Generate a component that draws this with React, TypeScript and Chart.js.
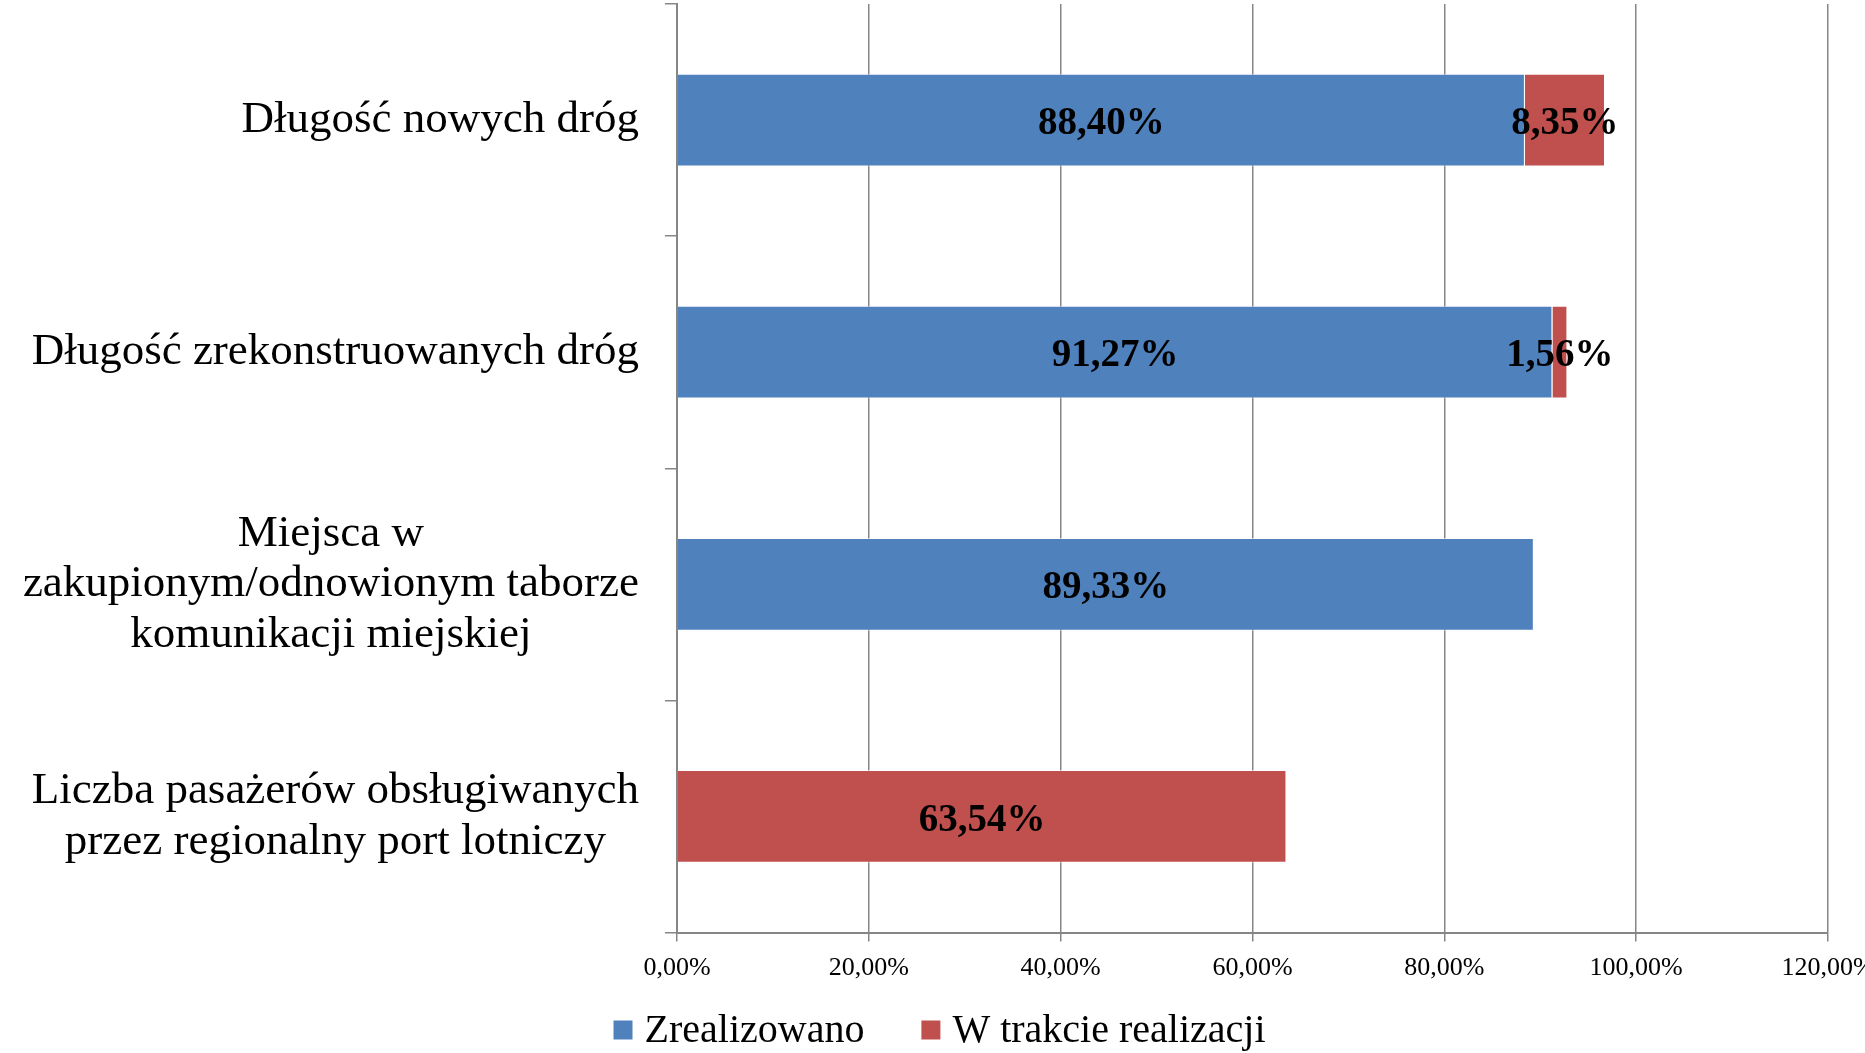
import { useEffect, useRef } from "react";
import { Chart, registerables } from "chart.js";

Chart.register(...registerables);

const categories: string[][] = [
  ["Długość nowych dróg"],
  ["Długość zrekonstruowanych dróg"],
  ["Miejsca w", "zakupionym/odnowionym taborze", "komunikacji miejskiej"],
  ["Liczba pasażerów obsługiwanych", "przez regionalny port lotniczy"],
];
const realized: (number | null)[] = [88.4, 91.27, 89.33, null];
const inProgress: (number | null)[] = [8.35, 1.56, null, 63.54];
const seriesNames = ["Zrealizowano", "W trakcie realizacji"];
const seriesColors = ["#4F81BD", "#C0504D"];
const xMin = 0;
const xMax = 120;
const xStep = 20;

const FONT = '"Liberation Serif", "Times New Roman", serif';
const W = 1865;
const H = 1053;

const fmt = (v: number) => v.toFixed(2).replace(".", ",") + "%";

const categoryLabelPlugin = {
  id: "categoryLabels",
  afterDraw(chart: any) {
    const ctx = chart.ctx;
    const yScale = chart.scales.y;
    ctx.save();
    ctx.font = `45px ${FONT}`;
    ctx.fillStyle = "#000";
    ctx.textAlign = "center";
    ctx.textBaseline = "middle";
    const rightEdge = chart.chartArea.left - 38;
    const lineH = 50.5;
    (chart.data.labels as string[][]).forEach((lines, i) => {
      const yc = yScale.getPixelForValue(i);
      const w = Math.max(...lines.map((l) => ctx.measureText(l).width));
      const cx = rightEdge - w / 2;
      const n = lines.length;
      lines.forEach((line, j) => {
        ctx.fillText(line, cx, yc + (j - (n - 1) / 2) * lineH);
      });
    });
    ctx.restore();
  },
};

const dataLabelPlugin = {
  id: "dataLabels",
  afterDatasetsDraw(chart: any) {
    const ctx = chart.ctx;
    ctx.save();
    ctx.font = `bold 39px ${FONT}`;
    ctx.fillStyle = "#000";
    ctx.textAlign = "center";
    ctx.textBaseline = "middle";
    chart.data.datasets.forEach((ds: any, di: number) => {
      const meta = chart.getDatasetMeta(di);
      meta.data.forEach((el: any, i: number) => {
        const v = ds.data[i];
        if (v == null) return;
        const p = el.getProps(["x", "base", "y"], true);
        ctx.fillText(fmt(v), (p.x + p.base) / 2, p.y + 4);
      });
    });
    ctx.restore();
  },
};

const legendPlugin = {
  id: "customLegend",
  afterDraw(chart: any) {
    const ctx = chart.ctx;
    ctx.save();
    ctx.font = `40px ${FONT}`;
    ctx.textBaseline = "middle";
    ctx.textAlign = "left";
    const box = 19;
    const boxGap = 12;
    const itemGap = 57;
    const items = chart.data.datasets.map((ds: any) => ({
      text: ds.label as string,
      color: ds.backgroundColor as string,
      w: ctx.measureText(ds.label).width,
    }));
    const total =
      items.reduce((s: number, it: any) => s + box + boxGap + it.w, 0) +
      itemGap * (items.length - 1);
    let x = chart.width / 2 + 7 - total / 2;
    const yc = 1030;
    items.forEach((it: any) => {
      ctx.fillStyle = it.color;
      ctx.fillRect(x, yc - box / 2, box, box);
      x += box + boxGap;
      ctx.fillStyle = "#000";
      ctx.fillText(it.text, x, yc + 1);
      x += it.w + itemGap;
    });
    ctx.restore();
  },
};

export default function App() {
  const ref = useRef<HTMLCanvasElement | null>(null);

  useEffect(() => {
    if (!ref.current) return;
    const chart = new Chart(ref.current, {
      type: "bar",
      data: {
        labels: categories as any,
        datasets: [
          {
            label: seriesNames[0],
            data: realized,
            backgroundColor: seriesColors[0],
            borderColor: "rgba(255,255,255,0.55)",
            borderWidth: 1,
            barPercentage: 0.4,
            categoryPercentage: 1,
          },
          {
            label: seriesNames[1],
            data: inProgress,
            backgroundColor: seriesColors[1],
            borderColor: "rgba(255,255,255,0.55)",
            borderWidth: 1,
            barPercentage: 0.4,
            categoryPercentage: 1,
          },
        ],
      },
      options: {
        indexAxis: "y",
        responsive: false,
        animation: false,
        devicePixelRatio: 1,
        layout: { padding: { top: 4, right: 37, left: 0, bottom: 0 } },
        plugins: {
          legend: { display: false },
          tooltip: { enabled: false },
        },
        scales: {
          x: {
            stacked: true,
            min: xMin,
            max: xMax,
            ticks: {
              stepSize: xStep,
              font: { family: FONT, size: 26 },
              color: "#000",
              padding: 11,
              maxRotation: 0,
              callback: (v: any) => fmt(Number(v)),
            },
            grid: {
              color: "#868686",
              lineWidth: 1.5,
              tickLength: 9,
              drawTicks: true,
            },
            border: { color: "#868686", width: 2 },
            afterFit: (scale: any) => {
              scale.height = 120.5;
              scale.paddingRight = 0;
              scale.paddingLeft = 0;
            },
          },
          y: {
            stacked: true,
            offset: true,
            ticks: { display: false },
            grid: {
              offset: true,
              drawOnChartArea: false,
              drawTicks: true,
              tickLength: 12,
              color: "#868686",
              lineWidth: 1.5,
            },
            border: { color: "#868686", width: 2 },
            afterFit: (scale: any) => {
              scale.width = 677;
            },
          },
        },
      } as any,
      plugins: [dataLabelPlugin, categoryLabelPlugin, legendPlugin],
    });
    return () => chart.destroy();
  }, []);

  return (
    <div
      style={{
        position: "fixed",
        left: 0,
        top: 0,
        width: W,
        height: H,
        background: "#fff",
        overflow: "hidden",
      }}
    >
      <canvas ref={ref} width={W} height={H} style={{ display: "block" }} />
    </div>
  );
}
